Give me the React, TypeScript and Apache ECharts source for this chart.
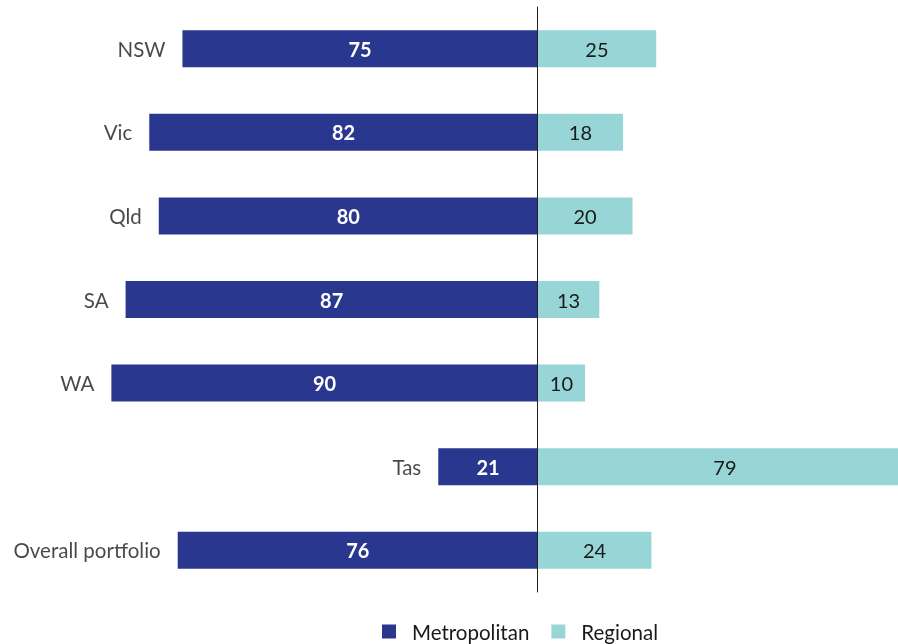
import React, { useEffect, useRef } from "react";
import * as echarts from "echarts";

const categories = ["NSW", "Vic", "Qld", "SA", "WA", "Tas", "Overall portfolio"];
const metropolitan = [75, 82, 80, 87, 90, 21, 76];
const regional = [25, 18, 20, 13, 10, 79, 24];

const FONT = "Lato";

export default function App() {
  const ref = useRef<HTMLDivElement>(null);
  useEffect(() => {
    if (!ref.current) return;
    const chart = echarts.init(ref.current, null, { renderer: "svg" });
    chart.setOption({
      animation: false,
      textStyle: { fontFamily: FONT },
      grid: { left: 64, right: 0, top: 7, bottom: 52, containLabel: false },
      xAxis: {
        type: "value",
        min: -100,
        max: 79,
        show: false,
      },
      yAxis: {
        type: "category",
        data: categories,
        inverse: true,
        axisLine: { onZero: true, lineStyle: { color: "#222", width: 1 } },
        axisTick: { show: false },
        axisLabel: { show: false },
        z: 10,
      },
      legend: {
        data: ["Metropolitan", "Regional"],
        left: 377,
        bottom: -3,
        itemWidth: 14,
        itemHeight: 14,
        itemGap: 22,
        icon: "rect",
        textStyle: { fontFamily: FONT, fontSize: 20.5, color: "#1a1a1a", padding: [0, 0, 0, 11] },
      },
      series: [
        {
          name: "Metropolitan",
          type: "bar",
          stack: "total",
          barWidth: 37,
          data: metropolitan.map((v) => -v),
          itemStyle: { color: "#29378F" },
          label: {
            show: true,
            position: "inside",
            formatter: (p: any) => String(-p.value),
            color: "#fff",
            fontWeight: "bold",
            fontSize: 20,
            fontFamily: FONT,
          },
        },
        {
          name: "Regional",
          type: "bar",
          stack: "total",
          barWidth: 37,
          data: regional,
          itemStyle: { color: "#98D5D7" },
          label: {
            show: true,
            position: "inside",
            color: "#1a1a1a",
            fontSize: 20,
            fontFamily: FONT,
          },
        },
        {
          name: "names",
          type: "scatter",
          symbolSize: 0,
          data: metropolitan.map((v, i) => [-v, i]),
          label: {
            show: true,
            position: "left",
            distance: 17,
            formatter: (p: any) => categories[p.dataIndex],
            color: "#1a1a1a",
            fontSize: 20.5,
            fontFamily: FONT,
          },
          silent: true,
        },
      ],
    });
    return () => chart.dispose();
  }, []);
  return (
    <div style={{ position: "fixed", left: 0, top: 0, width: 898, height: 644, overflow: "hidden" }}>
      <div ref={ref} style={{ width: 912, height: 644 }} />
    </div>
  );
}
